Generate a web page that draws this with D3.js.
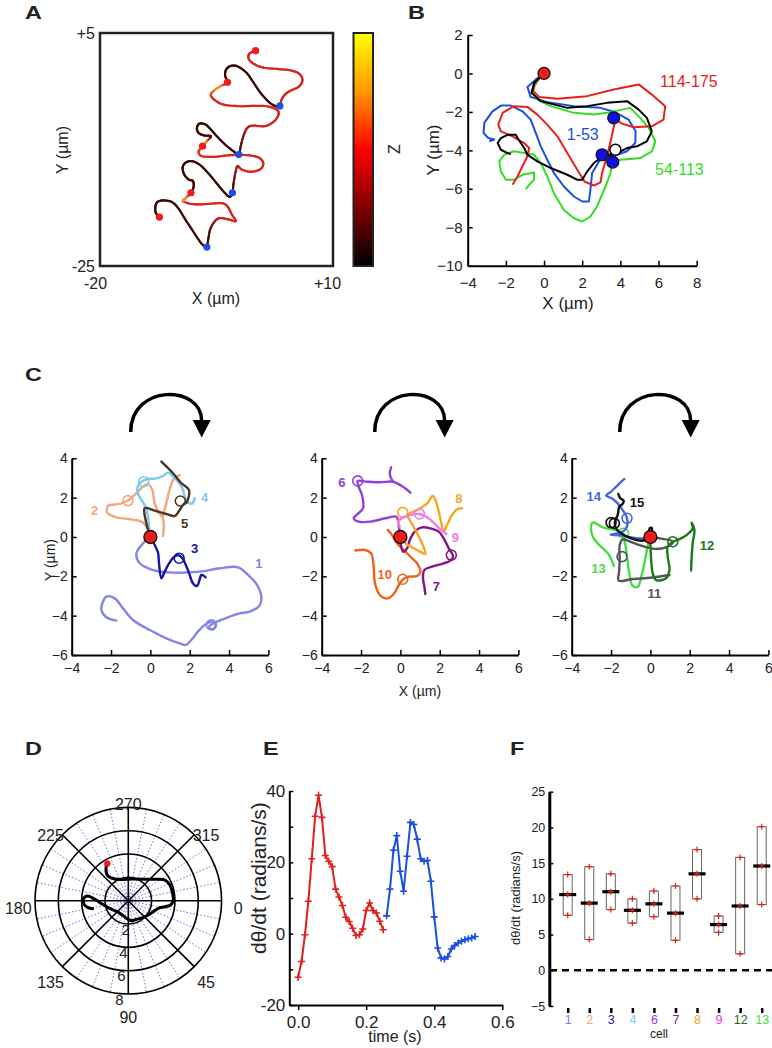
<!DOCTYPE html>
<html><head><meta charset="utf-8">
<script src="https://cdn.jsdelivr.net/npm/d3@7"></script>
<style>body{margin:0;background:#fff}svg{display:block}</style>
</head><body><svg id="fig" width="772" height="1048"></svg>
<script>
// ================= DATA =================
// Panel A: trajectory [x, y, z]
const aTrack = [
[-12.35,-18.70,0.1],[-12.82,-18.15,0.1],[-12.86,-17.29,0.1],[-12.56,-16.73,0.1],[-11.79,-16.56,0.1],[-10.73,-16.77,0.1],[-9.87,-17.63,0.1],[-9.02,-19.0,0.12],[-8.03,-20.50,0.12],[-7.09,-21.92,0.12],[-6.58,-22.43,0.12],[-6.24,-22.56,0.12],
[-6.03,-21.36,0.12],[-5.81,-20.29,0.18],[-5.30,-19.35,0.3],[-4.62,-18.83,0.4],[-3.46,-19.0,0.45],[-2.52,-19.22,0.45],[-3.03,-18.36,0.45],[-3.46,-17.50,0.45],[-4.10,-16.95,0.45],[-5.38,-16.95,0.45],[-7.09,-17.07,0.45],[-8.38,-16.99,0.45],[-9.15,-16.73,0.5],[-9.32,-16.60,0.72],[-8.80,-16.09,0.72],
[-8.29,-15.57,0.1],[-7.95,-14.80,0.1],[-8.03,-14.07,0.1],[-8.59,-13.86,0.1],[-9.15,-13.22,0.1],[-9.36,-12.36,0.1],[-9.02,-11.72,0.1],[-8.16,-11.50,0.1],[-7.09,-12.02,0.1],[-6.03,-13.09,0.1],[-4.96,-14.37,0.1],[-4.02,-15.49,0.1],[-3.33,-16.09,0.1],[-2.95,-15.57,0.12],
[-2.82,-14.50,0.15],[-2.61,-13.22,0.25],[-2.31,-12.15,0.35],[-1.75,-12.58,0.45],[-0.60,-12.87,0.45],[0.60,-12.57,0.45],[1.03,-11.80,0.45],[0.51,-11.07,0.45],[-0.68,-10.77,0.45],[-2.18,-10.69,0.45],[-3.68,-10.77,0.45],[-5.38,-10.95,0.45],[-6.88,-10.86,0.5],[-7.31,-10.35,0.5],[-7.09,-9.92,0.5],
[-6.79,-9.57,0.72],[-6.24,-8.93,0.72],[-5.73,-8.29,0.1],[-6.58,-8.20,0.1],[-7.31,-7.86,0.1],[-7.52,-7.22,0.1],[-7.18,-6.66,0.1],[-6.41,-6.79,0.1],[-5.73,-7.43,0.1],[-4.96,-8.29,0.1],[-3.89,-9.36,0.1],[-2.82,-10.22,0.1],[-2.14,-10.65,0.12],
[-1.88,-9.57,0.15],[-1.54,-8.29,0.25],[-1.03,-7.22,0.35],[-0.26,-6.92,0.45],[1.24,-7.0,0.45],[2.39,-6.40,0.45],[2.99,-5.50,0.45],[2.74,-4.86,0.45],[1.45,-4.43,0.45],[-0.26,-4.39,0.45],[-1.97,-4.43,0.45],[-4.10,-4.22,0.45],[-5.30,-3.57,0.45],[-5.73,-2.93,0.5],[-5.17,-2.29,0.72],[-4.32,-1.77,0.72],
[-3.59,-1.34,0.1],[-3.89,-0.49,0.1],[-3.76,0.29,0.1],[-3.16,0.76,0.1],[-2.31,0.71,0.1],[-1.20,-0.06,0.1],[-0.34,-1.22,0.1],[0.68,-2.72,0.1],[1.79,-3.92,0.1],[2.65,-4.43,0.12],
[3.16,-4.39,0.3],[3.38,-3.57,0.45],[3.85,-2.89,0.45],[4.53,-2.42,0.45],[5.56,-1.94,0.45],[6.07,-1.09,0.45],[5.64,-0.23,0.45],[4.44,0.20,0.45],[2.74,0.37,0.45],[1.03,0.54,0.45],[-0.17,1.01,0.45],[-0.85,1.66,0.45],[-0.77,2.34,0.45],[0.04,2.73,0.45]
];
const aStartDots = [[-12.35,-18.70],[-8.29,-15.57],[-6.79,-9.57],[-3.59,-1.34],[0.04,2.73]];
const aEndDots = [[-6.24,-22.56],[-2.95,-15.57],[-2.14,-10.65],[3.16,-4.39]];
const aTickX = [-20,10], aTickY = [-25,5];

// Panel B: tracks in µm
const bRed = [[0,0],[-0.52,-0.57],[-0.56,-0.92],[-0.26,-1.22],[0.70,-1.32],[2.26,-1.18],[3.65,-0.83],[4.96,-0.57],[5.65,-1.10],[6.35,-1.70],[6.26,-2.40],[5.65,-2.75],[4.70,-2.80],[4.09,-2.61],[3.74,-2.37],[3.51,-3.44],[3.30,-4.31],[3.04,-5.18],[2.96,-5.67],[2.61,-5.83],[2.12,-5.62],[1.74,-5.01],[1.22,-4.14],[0.70,-3.27],[0.17,-2.66],[-0.35,-2.14],[-0.87,-1.74],[-1.57,-1.70],[-2.17,-2.05],[-2.40,-2.66],[-2.26,-3.01],[-1.65,-3.27],[-1.04,-3.62],[-0.78,-3.88],[-0.87,-4.31],[-1.13,-4.83],[-1.39,-5.36],[-1.65,-5.79]];
const bBlue = [[0,0],[-0.43,-0.31],[-0.87,-0.70],[-0.70,-1.22],[0.17,-1.50],[1.57,-1.70],[2.96,-1.79],[3.74,-2.02],[4.43,-2.40],[4.80,-3.01],[4.78,-3.62],[4.35,-4.05],[3.83,-4.23],[3.30,-4.17],[3.04,-4.31],[2.78,-4.75],[2.52,-5.18],[2.43,-6.05],[2.35,-6.66],[2.0,-6.66],[1.57,-6.40],[1.04,-5.88],[0.52,-5.18],[0.17,-4.49],[-0.17,-3.79],[-0.43,-3.10],[-0.70,-2.40],[-1.13,-1.97],[-1.74,-1.67],[-2.26,-1.67],[-2.70,-1.97],[-3.13,-2.57],[-3.17,-3.10],[-2.92,-3.36],[-2.61,-3.44],[-2.87,-3.53]];
const bGreen = [[0,0],[-0.35,-0.40],[-0.61,-0.92],[-0.35,-1.36],[0.35,-1.70],[1.57,-2.05],[2.61,-2.14],[3.30,-2.05],[4.52,-1.79],[5.04,-2.31],[5.48,-2.83],[5.83,-3.53],[5.65,-4.05],[5.04,-4.40],[4.52,-4.45],[4.0,-4.49],[3.60,-4.61],[3.48,-5.18],[3.22,-5.88],[2.78,-6.92],[2.43,-7.44],[2.0,-7.70],[1.57,-7.53],[1.04,-7.10],[0.52,-6.23],[0.17,-5.36],[-0.17,-4.66],[-0.52,-4.23],[-1.04,-4.14],[-1.57,-4.05],[-2.09,-4.23],[-2.35,-4.57],[-2.26,-5.10],[-2.0,-5.53],[-1.57,-5.53],[-1.13,-5.27],[-0.52,-5.15],[-0.52,-5.53],[-0.78,-5.79],[-0.96,-6.02]];
const bBlack = [[0,0],[-0.52,-0.49],[-0.66,-1.01],[-0.17,-1.44],[1.22,-1.79],[2.26,-1.70],[3.30,-1.53],[4.35,-1.44],[4.96,-1.88],[5.39,-2.31],[5.65,-3.01],[5.39,-3.53],[4.87,-3.79],[4.35,-3.88],[3.83,-4.14],[3.30,-4.31],[2.96,-4.40],[2.61,-4.66],[2.26,-5.10],[2.0,-5.53],[1.74,-5.53],[1.22,-5.27],[0.35,-4.92],[-0.35,-4.57],[-0.87,-4.23],[-1.04,-3.88],[-1.39,-3.36],[-1.48,-3.19],[-1.91,-3.19],[-2.26,-3.36],[-2.43,-3.62],[-2.26,-3.97],[-1.91,-4.14],[-1.74,-4.19]];
const bBlueDots = [[3.65,-2.31],[3.04,-4.23],[3.60,-4.61]];
const bOpenDots = [[3.74,-3.97]];
const bLabels = [["114-175",6.08,-0.72,"#e8201c"],["1-53",1.19,-3.47,"#1a4fe0"],["54-113",5.82,-5.29,"#33dd22"]];
const bTickX = [-4,-2,0,2,4,6,8], bTickY = [-10,-8,-6,-4,-2,0,2];

// Panel C: per-cell tracks (µm), open circles, label positions
const cTrack1 = [[[0,0],[-0.37,-0.32],[-0.71,-0.83],[-0.54,-1.34],[0.14,-1.68],[1.15,-1.81],[2.51,-1.76],[3.53,-1.59],[4.46,-1.54],[4.97,-1.93],[5.39,-2.39],[5.64,-3.03],[5.56,-3.46],[5.05,-3.80],[4.54,-3.88],[4.03,-4.05],[3.53,-4.25],[3.19,-4.39],[2.98,-4.59],[3.19,-4.69],[3.32,-4.47],[3.10,-4.31],[2.76,-4.47],[2.42,-4.81],[2.08,-5.24],[1.80,-5.49],[1.49,-5.41],[0.81,-5.15],[-0.03,-4.73],[-0.88,-4.22],[-1.39,-3.63],[-1.81,-3.12],[-2.24,-3.03],[-2.44,-3.37],[-2.49,-3.71],[-2.24,-4.08],[-1.73,-4.25]]];
const cTrack2 = [[[0,0],[-0.12,0.44],[-0.46,0.78],[-1.05,0.90],[-1.73,1.0],[-2.20,1.24],[-2.15,1.58],[-1.56,1.68],[-1.14,1.85],[-0.80,2.14],[-0.37,2.56],[-0.12,2.69],[0.10,2.39],[0.22,1.71],[0.44,1.24],[0.64,0.95],[0.68,0.44],[0.64,0.05]],[[1.49,3.15],[1.19,2.95],[0.98,2.42],[0.81,1.71],[0.61,1.03]]];
const cTrack3 = [[[0,0],[0.22,-0.41],[0.39,-0.80],[0.44,-1.34],[0.56,-2.10],[0.73,-1.76],[0.95,-1.34],[1.19,-1.03],[1.41,-0.92],[1.63,-1.08],[1.80,-1.42],[1.97,-1.85],[2.17,-2.36],[2.37,-2.49],[2.51,-2.15],[2.59,-1.93],[2.73,-1.98],[2.81,-2.05]]];
const cTrack4 = [[[0,0],[-0.07,0.53],[-0.12,1.03],[-0.24,1.54],[-0.51,1.97],[-0.68,2.39],[-0.54,2.73],[-0.20,2.93],[0.31,2.98],[0.64,3.10],[0.90,3.27],[1.15,3.07],[1.41,2.81],[1.63,2.47],[1.75,2.05],[1.92,1.75],[2.14,1.71],[2.25,1.97]]];
const cTrack5 = [[[0.56,3.83],[1.15,3.24],[1.58,2.73],[1.96,2.39],[1.86,1.79],[1.66,1.63],[1.49,1.37],[1.24,1.07],[0.81,1.17],[0.22,1.34],[-0.29,1.46],[-0.24,0.86],[-0.12,0.36],[0,0]]];
const cTrack6 = [[[0,0],[-0.08,0.53],[-0.20,1.03],[-0.76,0.95],[-1.53,0.78],[-2.12,0.78],[-2.37,0.95],[-2.17,1.17],[-1.90,1.46],[-1.93,2.05],[-2.12,2.56],[-2.17,2.85],[-1.69,2.81],[-1.02,2.78],[-0.37,2.81],[0.17,2.53],[0.51,2.25]],[[-0.37,2.81],[-0.54,3.20],[-0.47,3.54]]];
const cTrack7 = [[[0,0],[0.03,-0.41],[0.14,-0.75],[0.34,-0.58],[0.51,-0.07],[0.76,0.31],[1.10,0.49],[1.53,0.44],[1.95,0.27],[2.20,-0.07],[2.46,-0.58],[2.68,-1.0],[2.54,-1.20],[2.20,-1.34],[1.61,-1.51],[1.22,-1.68],[1.15,-2.10],[1.22,-2.53],[1.27,-2.90]]];
const cTrack8 = [[[0,0],[0.25,-0.32],[0.85,-0.66],[1.27,-0.86],[1.10,-0.32],[0.76,0.36],[0.42,0.95],[0.34,1.12],[0.85,1.37],[1.36,1.71],[1.64,2.08],[1.81,1.80],[1.95,1.29],[2.12,0.53],[2.20,0.27],[2.37,0.61],[2.63,1.12],[2.88,1.41],[3.14,1.46]]];
const cTrack9 = [[[-0.03,0.53],[-0.12,0.78],[0.08,0.95],[0.51,1.12],[0.97,1.17],[1.36,1.0],[1.69,0.73],[2.03,0.39],[2.34,0.15]]];
const cTrack10 = [[[-0.64,0.36],[-0.42,0.10],[-0.17,-0.32],[0.17,-0.66],[0.51,-1.0],[0.85,-1.34],[1.02,-1.76],[0.85,-1.98],[0.42,-2.02],[0.14,-2.15],[-0.08,-2.44],[-0.31,-2.86],[-0.64,-3.12],[-0.97,-3.03],[-1.19,-2.69],[-1.32,-2.19],[-1.36,-1.51],[-1.49,-0.83],[-1.78,-0.66],[-2.29,-0.69]]];
const cTrack11 = [[[0,0],[0.54,-0.08],[1.14,-0.24],[0.88,-0.49],[0.29,-0.61],[-0.31,-0.49],[-0.90,-0.29],[-1.41,-0.12],[-1.56,-0.41],[-1.56,-1.17],[-1.59,-1.76],[-1.61,-2.22],[-0.98,-2.15],[-0.31,-2.10],[0.37,-2.02],[0.97,-1.93]]];
const cTrack12 = [[[0,-0.15],[0.03,-1.0],[0.12,-1.85],[0.29,-2.19],[0.80,-2.10],[0.97,-1.68],[0.88,-1.0],[0.88,-0.49],[1.14,-0.25],[1.56,-0.07],[1.90,0.15],[2.15,0.44],[2.10,0.73],[2.24,0.36],[2.15,-0.32],[2.10,-1.0],[2.07,-1.71]]];
const cTrack13 = [[[0,0],[-0.14,-0.49],[-0.27,-1.17],[-0.44,-1.93],[-0.64,-2.53],[-0.90,-2.49],[-1.07,-1.85],[-1.19,-1.0],[-1.29,-0.32],[-1.49,0.22],[-1.83,0.36],[-2.42,0.49],[-2.93,0.73],[-3.02,0.36],[-2.88,-0.07],[-2.51,-0.49],[-2.14,-0.86],[-1.97,-1.17],[-1.86,-1.47]]];
const cTrack14 = [[[-1.32,2.95],[-1.66,2.64],[-2.0,2.31],[-2.25,2.10],[-1.97,1.97],[-1.66,1.71],[-1.41,1.37],[-1.19,0.95],[-1.19,0.53],[-1.41,0.27],[-1.83,0.15],[-2.03,0.12],[-1.49,0.08],[-0.81,-0.05],[-0.22,-0.08]]];
const cTrack15 = [[[-1.63,2.19],[-1.53,1.97],[-1.36,1.85],[-1.41,1.68],[-1.58,1.54],[-1.66,1.12],[-1.80,0.78],[-1.75,0.44],[-1.49,0.19],[-0.98,-0.07],[-0.47,-0.19],[-0.05,-0.12]],[[0,0.19],[-0.05,0.42],[0.07,0.47],[0.07,0.25]]];
const cCircles = {"1":[[3.10,-4.47]],"2":[[-1.14,1.85]],"3":[[1.46,-1.08]],"4":[[-0.34,2.81]],"5":[[1.52,1.83]],"6":[[-2.17,2.85]],"7":[[2.59,-0.92]],"8":[[0.12,1.25]],"9":[[0.97,1.17]],"10":[[0.12,-2.15]],"11":[[-1.44,-1.0]],"12":[[1.14,-0.24]],"13":[[-1.36,0.19]],"14":[[-1.19,0.95]],"15":[[-2.0,0.73],[-1.83,0.69]]};
const cLabelPos = {"1":[5.52,-1.34],"2":[-2.84,1.37],"3":[2.25,-0.57],"4":[2.76,2.05],"5":[1.74,0.73],"6":[-2.97,2.81],"7":[1.83,-2.49],"8":[2.97,1.97],"9":[2.80,0.02],"10":[-0.80,-1.90],"11":[0.20,-2.86],"12":[2.88,-0.41],"13":[-2.64,-1.56],"14":[-2.88,2.10],"15":[-0.68,1.76]};
const cellColors = {"1":"#8585e8","2":"#f4a582","3":"#1414a8","4":"#7fc8f0","5":"#4a3520","6":"#9040e0","7":"#851585","8":"#f5a623","9":"#f07ee0","10":"#f06418","11":"#555555","12":"#1a7a1a","13":"#44dd44","14":"#4466e0","15":"#111111"};
const cGroups = [["1","3","2","4","5"],["6","10","7","8","9"],["13","11","12","14","15"]];
const cTracks = {"1":cTrack1,"2":cTrack2,"3":cTrack3,"4":cTrack4,"5":cTrack5,"6":cTrack6,"7":cTrack7,"8":cTrack8,"9":cTrack9,"10":cTrack10,"11":cTrack11,"12":cTrack12,"13":cTrack13,"14":cTrack14,"15":cTrack15};
const cTickX = [-4,-2,0,2,4,6], cTickY = [-6,-4,-2,0,2,4];

// Panel D: polar trace (angle in degrees, radius)
const dTheta = [240.6,235.4,230.7,238.4,283,319.5,330.6,339.4,350.6,359.2,5.8,9.3,14.3,23.7,35.6,48,65.9,80.5,95.4,123.3,148.1,164.5,176,183.8,186.5,182.1,175.2,170.1,167.4];
const dRadius = [3.67,3.37,2.84,2.18,1.91,2.82,3.61,3.81,3.85,3.86,3.65,3.19,2.65,2.34,2.11,1.92,1.75,1.74,1.52,1.30,1.51,1.93,2.43,3.01,3.54,3.86,3.79,3.48,3.13];
const dRings = [2,4,6,8];
const dAngleLabels = [0,45,90,135,180,225,270,315];

// Panel E: dθ/dt time series
const eTimeRed = [0,0.01,0.02,0.03,0.04,0.05,0.06,0.07,0.08,0.09,0.10,0.11,0.12,0.13,0.14,0.15,0.16,0.17,0.18,0.19,0.20,0.21,0.22,0.23,0.24,0.25];
const eValRed = [-12.2,-7.8,-0.3,9.1,21.0,32.9,38.8,32.6,21.9,20.3,18.8,12.5,10.3,7.9,4.6,3.4,1.5,-0.5,-0.3,1.3,6.5,8.6,6.5,5.8,3.5,1.1];
const eTimeBlue = [0.26,0.27,0.28,0.29,0.30,0.31,0.32,0.33,0.34,0.35,0.36,0.37,0.38,0.39,0.40,0.41,0.42,0.43,0.44,0.45,0.46,0.47,0.48,0.49,0.50,0.51,0.52];
const eValBlue = [5.0,12.5,23.4,27.5,17.5,11.9,21.7,31.2,30.6,26.5,21.0,20.3,20.5,14.7,4.7,-4.0,-6.8,-7.1,-6.4,-4.3,-3.3,-2.6,-2.1,-1.7,-1.4,-1.2,-0.8];
const eTickX = [0,0.2,0.4,0.6], eTickY = [-20,-10,0,10,20,30,40];

// Panel F: per-cell range / median
const fCells = ["1","2","3","4","6","7","8","9","12","13"];
const fTop = [13.4,14.5,13.5,10.0,11.1,11.8,16.9,7.6,15.8,20.1];
const fMedian = [10.6,9.4,11.0,8.4,9.3,8.0,13.5,6.4,9.0,14.6];
const fBottom = [7.7,4.3,8.5,6.6,7.5,4.2,10.0,5.3,2.3,9.2];
const fLabelColors = ["#8080e0","#f4a582","#1a1aaa","#80c8f0","#9040e0","#8b1a8b","#f5a623","#e040e0","#1a6a1a","#40e040"];
const fTickY = [-5,0,5,10,15,20,25];

// ================= DRAWING =================
const FONT = "'Liberation Sans', Arial, Helvetica, sans-serif";
const TXT = "#222";
const svg = d3.select("#fig").attr("font-family", FONT);

function styleAxis(g, fs, domW, tickW){
  g.attr("font-family", FONT).attr("font-size", fs);
  g.selectAll("text").attr("fill", TXT);
  g.selectAll(".tick line").attr("stroke", "#000").attr("stroke-width", tickW||1.5);
  g.select(".domain").attr("stroke", "#000").attr("stroke-width", domW||2);
}
function panelLetter(t, x, y){
  svg.append("text").attr("transform", `translate(${x},${y}) scale(1.3,1)`).text(t).attr("font-size", 18).attr("font-weight", "bold").attr("fill", TXT);
}
function vText(t, x, y, fs){
  svg.append("text").attr("transform", `translate(${x},${y}) rotate(-90)`).attr("text-anchor", "middle").attr("font-size", fs).attr("fill", TXT).text(t);
}
function hText(t, x, y, fs){
  svg.append("text").attr("x", x).attr("y", y).attr("text-anchor", "middle").attr("font-size", fs).attr("fill", TXT).text(t);
}

// ---------- Panel A ----------
panelLetter("A", 25, 19);
const ax = d3.scaleLinear().domain([-20, 10]).range([100, 333]);
const ay = d3.scaleLinear().domain([-25, 5]).range([266, 33]);
const hot = d3.scaleLinear().domain([0, 0.5, 0.75, 1]).range(["#000000", "#ff0000", "#ff9900", "#ffff00"]).clamp(true);
const trackColor = d3.scaleLinear().domain([0, 0.1, 0.45, 0.72, 1]).range(["#000000", "#3a0a08", "#d8261c", "#f08a28", "#ffff00"]);
const gA = svg.append("g");
{
  const P = aTrack.map(d => [ax(d[0]), ay(d[1]), d[2]]);
  const cr = (a, b, c, e, t) => { const t2 = t*t, t3 = t2*t; return 0.5*((2*b) + (-a + c)*t + (2*a - 5*b + 4*c - e)*t2 + (-a + 3*b - 3*c + e)*t3); };
  const N = 6;
  for (let i = 0; i < P.length - 1; i++){
    const p0 = P[Math.max(i-1, 0)], p1 = P[i], p2 = P[i+1], p3 = P[Math.min(i+2, P.length-1)];
    for (let k = 0; k < N; k++){
      const t0 = k/N, t1 = (k+1)/N;
      const x0 = cr(p0[0], p1[0], p2[0], p3[0], t0), y0 = cr(p0[1], p1[1], p2[1], p3[1], t0);
      const x1 = cr(p0[0], p1[0], p2[0], p3[0], t1), y1 = cr(p0[1], p1[1], p2[1], p3[1], t1);
      const z = p1[2] + (p2[2] - p1[2]) * ((t0 + t1) / 2);
      gA.append("line").attr("x1", x0).attr("y1", y0).attr("x2", x1).attr("y2", y1)
        .attr("stroke", trackColor(z)).attr("stroke-width", 2.2).attr("stroke-linecap", "round");
    }
  }
}
gA.selectAll("circle.s").data(aStartDots).join("circle").attr("class", "s").attr("cx", d => ax(d[0])).attr("cy", d => ay(d[1])).attr("r", 3.6).attr("fill", "#ee1c1c");
gA.selectAll("circle.e").data(aEndDots).join("circle").attr("class", "e").attr("cx", d => ax(d[0])).attr("cy", d => ay(d[1])).attr("r", 3.6).attr("fill", "#1f4fe8");
gA.append("rect").attr("x", ax(-20)).attr("y", ay(5)).attr("width", ax(10) - ax(-20)).attr("height", ay(-25) - ay(5)).attr("fill", "none").attr("stroke", "#222").attr("stroke-width", 2.5);
{
  const fmt = d => d > 0 ? "+" + d : String(d);
  const gy = svg.append("g").attr("transform", `translate(${ax(-20)},0)`).call(d3.axisLeft(ay).tickValues(aTickY).tickFormat(fmt).tickSize(0).tickPadding(5));
  gy.select(".domain").remove(); styleAxis(gy, 16);
  const gx = svg.append("g").attr("transform", `translate(0,${ay(-25)})`).call(d3.axisBottom(ax).tickValues(aTickX).tickFormat(fmt).tickSize(0).tickPadding(12));
  gx.select(".domain").remove(); styleAxis(gx, 16);
  gx.selectAll(".tick text").attr("dx", d => d < 0 ? -5 : -6);
}
hText("X (µm)", 216, 304, 16);
vText("Y (µm)", 68, 150, 16);
// colorbar
{
  const grad = svg.append("defs").append("linearGradient").attr("id", "hotgrad").attr("x1", 0).attr("y1", 1).attr("x2", 0).attr("y2", 0);
  d3.range(0, 1.0001, 0.05).forEach(t => grad.append("stop").attr("offset", t).attr("stop-color", hot(t)));
  svg.append("rect").attr("x", 353.5).attr("y", 33).attr("width", 19.5).attr("height", 233).attr("fill", "url(#hotgrad)").attr("stroke", "#222").attr("stroke-width", 2);
  vText("Z", 400, 149, 16);
}

// ---------- Panel B ----------
panelLetter("B", 408, 19);
const bx = d3.scaleLinear().domain([-4, 8]).range([467.7, 696.7]);
const by = d3.scaleLinear().domain([-10, 2]).range([265.7, 35]);
{
  const gx = svg.append("g").attr("transform", `translate(0,${by(-10)})`).call(d3.axisBottom(bx).tickValues(bTickX).tickSize(-5).tickSizeOuter(0).tickPadding(12));
  styleAxis(gx, 15);
  const gy = svg.append("g").attr("transform", `translate(${bx(-4)},0)`).call(d3.axisLeft(by).tickValues(bTickY).tickSize(-5).tickSizeOuter(0).tickPadding(5));
  styleAxis(gy, 15);
  const line = d3.line().x(d => bx(d[0])).y(d => by(d[1]));
  [[bBlue, "#1a4fe0"], [bGreen, "#33dd22"], [bRed, "#e8201c"], [bBlack, "#000000"]].forEach(([pts, col]) => {
    svg.append("path").datum(pts).attr("d", line).attr("fill", "none").attr("stroke", col).attr("stroke-width", 2).attr("stroke-linejoin", "round");
  });
  svg.selectAll("circle.bo").data(bOpenDots).join("circle").attr("class", "bo").attr("cx", d => bx(d[0])).attr("cy", d => by(d[1])).attr("r", 5.5).attr("fill", "#fff").attr("stroke", "#000").attr("stroke-width", 1.5);
  svg.selectAll("circle.bb").data(bBlueDots).join("circle").attr("class", "bb").attr("cx", d => bx(d[0])).attr("cy", d => by(d[1])).attr("r", 6).attr("fill", "#1010e6").attr("stroke", "#111").attr("stroke-width", 1.2);
  svg.append("circle").attr("cx", bx(0)).attr("cy", by(0)).attr("r", 6).attr("fill", "#ee1c1c").attr("stroke", "#111").attr("stroke-width", 1.2);
  bLabels.forEach(([t, x, y, c]) => svg.append("text").attr("x", bx(x)).attr("y", by(y)).attr("font-size", 16).attr("fill", c).text(t));
}
hText("X (µm)", 568, 309, 17);
vText("Y (µm)", 439, 150, 17);

// ---------- Panel C ----------
panelLetter("C", 25, 381);
const cLefts = [71.7, 321.7, 571.7];
const cArrow = [[59, 130], [53, 123], [48, 119]];
cGroups.forEach((ids, pi) => {
  const left = cLefts[pi];
  const xs = d3.scaleLinear().domain([-4, 6]).range([left, left + 196.7]);
  const ys = d3.scaleLinear().domain([-6, 4]).range([655, 458.3]);
  const g = svg.append("g");
  const gx = g.append("g").attr("transform", "translate(0,655)").call(d3.axisBottom(xs).tickValues(cTickX).tickSize(-5).tickSizeOuter(0).tickPadding(8));
  styleAxis(gx, 14);
  const gy = g.append("g").attr("transform", `translate(${left},0)`).call(d3.axisLeft(ys).tickValues(cTickY).tickSize(-5).tickSizeOuter(0).tickPadding(4));
  styleAxis(gy, 14);
  const line = d3.line().x(d => xs(d[0])).y(d => ys(d[1])).curve(d3.curveCatmullRom.alpha(0.5));
  ids.forEach(id => {
    const col = cellColors[id];
    cTracks[id].forEach(piece => g.append("path").datum(piece).attr("d", line).attr("fill", "none").attr("stroke", col).attr("stroke-width", 2.4).attr("stroke-linejoin", "round").attr("stroke-linecap", "round"));
    cCircles[id].forEach(c => g.append("circle").attr("cx", xs(c[0])).attr("cy", ys(c[1])).attr("r", 5).attr("fill", "none").attr("stroke", col).attr("stroke-width", 1.6));
    const lp = cLabelPos[id];
    g.append("text").attr("x", xs(lp[0])).attr("y", ys(lp[1]) + 5).attr("text-anchor", "middle").attr("font-size", 13).attr("font-weight", "bold").attr("fill", col).text(id);
  });
  g.append("circle").attr("cx", xs(0)).attr("cy", ys(0)).attr("r", 6.5).attr("fill", "#ee1c1c").attr("stroke", "#111").attr("stroke-width", 1.3);
  // rotation arrow
  const sx = left + cArrow[pi][0], ex = left + cArrow[pi][1];
  g.append("path").attr("d", `M${sx},432 C${sx},384 ${ex},384 ${ex},421`).attr("fill", "none").attr("stroke", "#000").attr("stroke-width", 3.5);
  g.append("path").attr("d", `M${ex-9},420 L${ex+9},420 L${ex},437.5 Z`).attr("fill", "#000");
});
vText("Y (µm)", 55, 560, 14);
hText("X (µm)", 420, 696, 14);

// ---------- Panel D ----------
panelLetter("D", 25, 755);
{
  const cx = 128.3, cy = 900.7;
  const rs = d3.scaleLinear().domain([0, 8]).range([0, 93.3]);
  const g = svg.append("g");
  const rad = a => a * Math.PI / 180;
  d3.range(0, 360, 11.25).filter(a => a % 45 !== 0).forEach(a => {
    g.append("line").attr("x1", cx).attr("y1", cy).attr("x2", cx + rs(8) * Math.cos(rad(a))).attr("y2", cy + rs(8) * Math.sin(rad(a)))
      .attr("stroke", "#7070e0").attr("stroke-width", 1).attr("stroke-dasharray", "1.5,2");
  });
  dRings.forEach(r => g.append("circle").attr("cx", cx).attr("cy", cy).attr("r", rs(r)).attr("fill", "none").attr("stroke", "#000").attr("stroke-width", 1.6));
  d3.range(0, 360, 45).forEach(a => {
    g.append("line").attr("x1", cx).attr("y1", cy).attr("x2", cx + rs(8) * Math.cos(rad(a))).attr("y2", cy + rs(8) * Math.sin(rad(a))).attr("stroke", "#000").attr("stroke-width", 1.6);
  });
  const pts = dTheta.map((t, i) => [cx + rs(dRadius[i]) * Math.cos(rad(t)), cy + rs(dRadius[i]) * Math.sin(rad(t))]);
  g.append("path").datum(pts).attr("d", d3.line().curve(d3.curveCatmullRom.alpha(0.5))).attr("fill", "none").attr("stroke", "#000").attr("stroke-width", 3).attr("stroke-linejoin", "round").attr("stroke-linecap", "round");
  g.append("circle").attr("cx", pts[0][0]).attr("cy", pts[0][1]).attr("r", 3.2).attr("fill", "#ee1c1c");
  dRings.forEach(r => g.append("text").attr("x", cx + (rs(r) + 8) * Math.cos(rad(95))).attr("y", cy + (rs(r) + 6) * Math.sin(rad(95)) + 5).attr("text-anchor", "middle").attr("font-size", 15).attr("fill", TXT).text(r));
  dAngleLabels.forEach(a => g.append("text").attr("x", cx + 110 * Math.cos(rad(a))).attr("y", cy + 104 * Math.sin(rad(a)) + 13.5 + (a === 90 ? 5 : 0)).attr("text-anchor", "middle").attr("font-size", 16).attr("fill", TXT).text(a));
}

// ---------- Panel E ----------
panelLetter("E", 263, 755);
{
  const ex = d3.scaleLinear().domain([-0.026, 0.6]).range([289.3, 502.3]);
  const ey = d3.scaleLinear().domain([-20, 40]).range([1005, 791]);
  const gx = svg.append("g").attr("transform", "translate(0,1005)").call(d3.axisBottom(ex).tickValues(eTickX).tickFormat(d3.format(".1f")).tickSize(5).tickSizeOuter(0).tickPadding(6));
  styleAxis(gx, 17);
  const gy = svg.append("g").attr("transform", "translate(289.3,0)").call(d3.axisLeft(ey).tickValues(eTickY).tickFormat(d => d % 20 === 0 ? d : "").tickSize(-4).tickSizeOuter(0).tickPadding(4));
  styleAxis(gy, 17);
  const series = [[eTimeRed, eValRed, "#e0201c"], [eTimeBlue, eValBlue, "#1a50e0"]];
  series.forEach(([ts, vs, col]) => {
    const pts = ts.map((t, i) => [ex(t), ey(vs[i])]);
    svg.append("path").datum(pts).attr("d", d3.line()).attr("fill", "none").attr("stroke", col).attr("stroke-width", 2);
    svg.append("path").attr("d", pts.map(p => `M${p[0]-3.5},${p[1]}h7M${p[0]},${p[1]-3.5}v7`).join("")).attr("stroke", col).attr("stroke-width", 1.6);
  });
  vText("dθ/dt (radians/s)", 266, 878, 21);
  hText("time (s)", 395, 1042, 16);
}

// ---------- Panel F ----------
panelLetter("F", 510, 755);
{
  const fx = d3.scalePoint().domain(fCells).range([567.7, 761.7]);
  const fy = d3.scaleLinear().domain([-5, 25]).range([1006, 791.7]);
  const gy = svg.append("g").attr("transform", "translate(549.3,0)").call(d3.axisLeft(fy).tickValues(fTickY).tickSize(-4).tickSizeOuter(0).tickPadding(4));
  styleAxis(gy, 12.5, 3);
  const gx = svg.append("g").attr("transform", "translate(0,1008)").call(d3.axisBottom(fx).tickSize(5).tickPadding(2));
  gx.select(".domain").remove();
  styleAxis(gx, 12.5, 2, 2.5);
  gx.selectAll(".tick text").attr("fill", (d, i) => fLabelColors[i]);
  svg.append("line").attr("x1", 550).attr("x2", 772).attr("y1", fy(0)).attr("y2", fy(0)).attr("stroke", "#000").attr("stroke-width", 2.5).attr("stroke-dasharray", "7,5");
  const g = svg.append("g");
  fCells.forEach((c, i) => {
    const x = fx(c);
    g.append("rect").attr("x", x - 4.5).attr("y", fy(fTop[i])).attr("width", 9).attr("height", fy(fBottom[i]) - fy(fTop[i])).attr("fill", "none").attr("stroke", "#666").attr("stroke-width", 1);
    g.append("line").attr("x1", x - 8.5).attr("x2", x + 8.5).attr("y1", fy(fMedian[i])).attr("y2", fy(fMedian[i])).attr("stroke", "#000").attr("stroke-width", 3.2);
    [fTop[i], fMedian[i], fBottom[i]].forEach(v => {
      g.append("path").attr("d", `M${x-3},${fy(v)}h6M${x},${fy(v)-3}v6`).attr("stroke", "#e02020").attr("stroke-width", 1.2);
    });
  });
  vText("dθ/dt (radians/s)", 520, 898, 13);
  hText("cell", 659, 1038, 12);
}
</script></body></html>
